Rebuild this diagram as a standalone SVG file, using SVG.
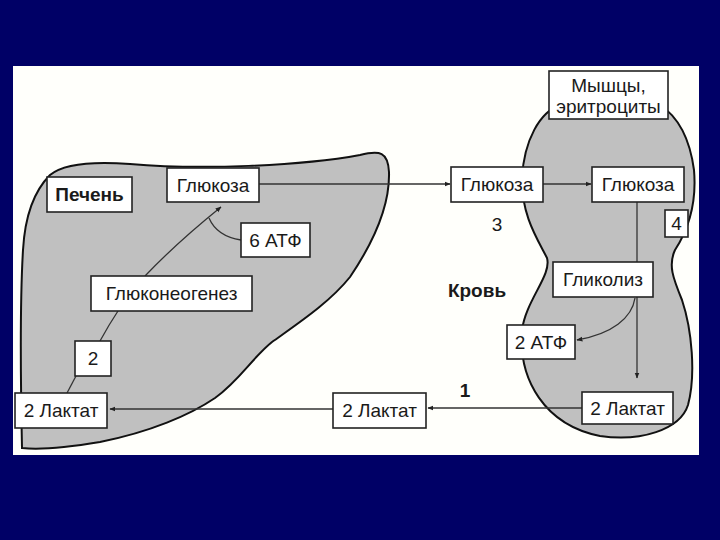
<svg xmlns="http://www.w3.org/2000/svg" width="720" height="540" viewBox="0 0 720 540">
<defs>
<marker id="ah" viewBox="0 0 10 10" refX="9" refY="5" markerWidth="6" markerHeight="6" orient="auto" markerUnits="userSpaceOnUse">
<path d="M0,1 L10,5 L0,9 Z" fill="#222"/>
</marker>
<style>
.bx{fill:#fff;stroke:#222;stroke-width:1.6}
.t{font-family:"Liberation Sans",Arial,sans-serif;font-size:19px;fill:#1a1a1a;text-anchor:middle}
.b{font-weight:bold}
.ln{fill:none;stroke:#333;stroke-width:1.3}
.org{fill:#c0c0c0;stroke:#111;stroke-width:2}
</style>
</defs>
<rect x="0" y="0" width="720" height="540" fill="#000066"/>
<rect x="13" y="66" width="686" height="389" fill="#fffffb"/>

<g id="liver-shape">
<path class="org" d="M22,448 C21,400 20,300 23,250 C25,215 35,190 50,175 C62,165 90,161 130,164 C200,170 300,166 360,155 C380,150 388,152 389,172 C390,205 375,240 350,277 C330,302 300,322 272,342 C252,358 240,380 215,398 C190,415 150,432 100,442 C70,447 40,450 22,448 Z"/>
</g>
<g id="muscle-shape">
<path class="org" d="M560,105 C540,112 524,140 522,178 C521,215 538,240 547,258 C552,275 526,300 522,330 C518,380 545,425 600,436 C640,442 680,430 688,405 C696,375 692,330 682,300 C673,278 668,265 675,250 C688,230 697,205 694,170 C690,140 680,118 660,105 Z"/>
</g>

<g id="connectors">
<line class="ln" x1="259" y1="184" x2="450" y2="184" marker-end="url(#ah)"/>
<line class="ln" x1="543" y1="184" x2="591" y2="184" marker-end="url(#ah)"/>
<line class="ln" x1="637" y1="202" x2="637" y2="262"/>
<line class="ln" x1="637" y1="297" x2="637" y2="378" marker-end="url(#ah)"/>
<path class="ln" d="M635,298 C632,318 612,334 577,340" marker-end="url(#ah)"/>
<line class="ln" x1="582" y1="408" x2="428" y2="408" marker-end="url(#ah)"/>
<line class="ln" x1="333" y1="409" x2="110" y2="409" marker-end="url(#ah)"/>
<path class="ln" d="M67,393 L76,376"/>
<path class="ln" d="M100,341 C106,330 112,320 118,311"/>
<path class="ln" d="M145,276 C165,255 190,232 221,207" marker-end="url(#ah)"/>
<path class="ln" d="M241,240 C228,238 215,232 209,218"/>
</g>

<g id="pechen"><rect class="bx" x="47" y="177" width="85" height="35"/><text class="t b" x="89.5" y="201">Печень</text></g>
<g id="glucose-liver"><rect class="bx" x="167" y="168" width="92" height="34"/><text class="t" x="213" y="192">Глюкоза</text></g>
<g id="atp6"><rect class="bx" x="241" y="223" width="69" height="34"/><text class="t" x="275.5" y="247">6 АТФ</text></g>
<g id="gluconeogenesis"><rect class="bx" x="91" y="276" width="161" height="35"/><text class="t" x="171.5" y="300">Глюконеогенез</text></g>
<g id="num2"><rect class="bx" x="75" y="341" width="36" height="35"/><text class="t" x="93" y="365">2</text></g>
<g id="lactate-liver"><rect class="bx" x="15" y="393" width="92" height="35"/><text class="t" x="61" y="417">2 Лактат</text></g>
<g id="lactate-blood"><rect class="bx" x="333" y="393" width="93" height="35"/><text class="t" x="379.5" y="417">2 Лактат</text></g>
<g id="glucose-blood"><rect class="bx" x="451" y="167" width="92" height="35"/><text class="t" x="497" y="191">Глюкоза</text></g>
<g id="glucose-muscle"><rect class="bx" x="592" y="167" width="92" height="35"/><text class="t" x="638" y="191">Глюкоза</text></g>
<g id="muscles"><rect class="bx" x="549" y="71" width="119" height="48"/><text class="t" x="608.5" y="92">Мышцы,</text><text class="t" x="608.5" y="113">эритроциты</text></g>
<g id="num4"><rect class="bx" x="665" y="210" width="23" height="27"/><text class="t" x="676.5" y="230">4</text></g>
<g id="num3"><text class="t" x="497" y="231">3</text></g>
<g id="glycolysis"><rect class="bx" x="553" y="262" width="100" height="35"/><text class="t" x="603" y="286">Гликолиз</text></g>
<g id="krov"><text class="t b" x="477" y="297">Кровь</text></g>
<g id="atp2"><rect class="bx" x="507" y="325" width="68" height="34"/><text class="t" x="541" y="349">2 АТФ</text></g>
<g id="lactate-muscle"><rect class="bx" x="582" y="392" width="91" height="32"/><text class="t" x="627.5" y="415">2 Лактат</text></g>
<g id="num1"><text class="t b" x="465" y="397">1</text></g>
</svg>
